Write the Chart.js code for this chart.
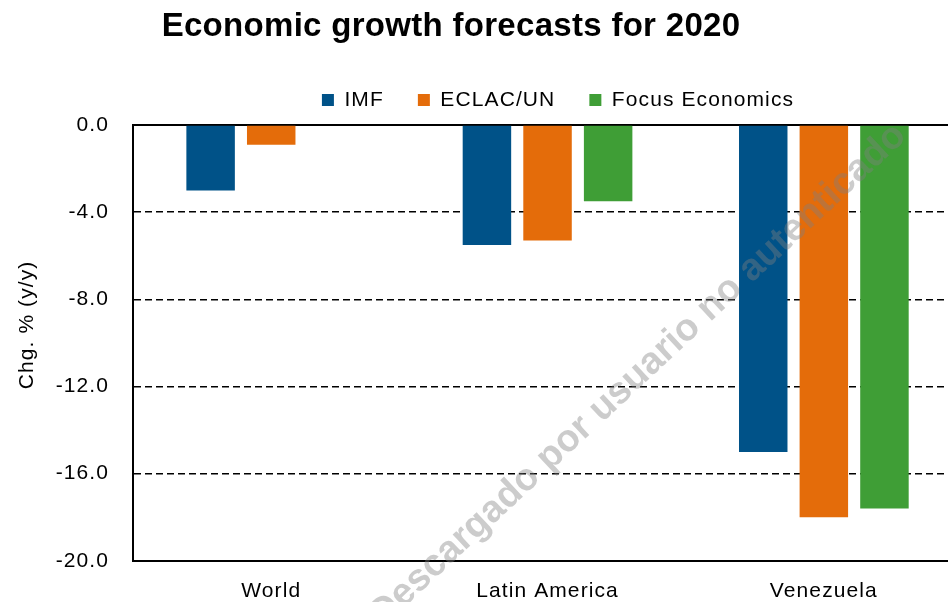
<!DOCTYPE html>
<html>
<head>
<meta charset="utf-8">
<script src="https://cdn.jsdelivr.net/npm/chart.js@4.4.1/dist/chart.umd.min.js"></script>
<style>
    html, body { margin: 0; padding: 0; background: #fff; overflow: hidden; }
    #wrap { width: 948px; height: 602px; overflow: hidden; }
</style>
</head>
<body>
<div id="wrap"><canvas id="growthChart" width="970" height="622"></canvas></div>
<script>
// values
const categories = ['World', 'Latin America', 'Venezuela'];
const imfValues = [-3.0, -5.5, -15.0];
const eclacValues = [-0.9, -5.3, -18.0];
const focusValues = [null, -3.5, -17.6];   // no Focus Economics figure for World
const yMin = -20;
const yMax = 0;
const yStep = 4;
const watermarkText = 'Descargado por usuario no autenticado';

const letterSpacing = '1.1px';
const legendShift = 77;   // legend sits right of centre in the original
const titleShift = -30;   // title sits left of centre
const yTitleShiftX = 8.5;
const yTitleShiftY = -18;

Chart.defaults.font.family = "'Liberation Sans', Arial, sans-serif";
Chart.defaults.color = '#000';

// wider letter spacing like the original rendering
const spacingPlugin = {
    id: 'spacing',
    beforeLayout(chart) { chart.ctx.letterSpacing = letterSpacing; },
    beforeDraw(chart) { chart.ctx.letterSpacing = letterSpacing; }
};

const boxesPlugin = {
    id: 'boxes',
    beforeInit(chart) {
        const fit = chart.legend.fit;
        chart.legend.fit = function () {
            fit.call(this);
            this.height += 4.5; // a bit more room under the legend
        };
        const drawTitle = chart.titleBlock.draw;
        chart.titleBlock.draw = function () {
            const ls = this.ctx.letterSpacing;
            this.ctx.letterSpacing = '0.3px';
            drawTitle.call(this);
            this.ctx.letterSpacing = ls;
        };
    },
    afterLayout(chart) {
        chart.legend.left += legendShift;
        chart.legend.right += legendShift;
        chart.titleBlock.left += titleShift;
        chart.titleBlock.right += titleShift;
        const y = chart.scales.y;
        if (!y._shifted) {
            const drawYTitle = y.drawTitle;
            y.drawTitle = function () {
                this.ctx.save();
                this.ctx.translate(yTitleShiftX, yTitleShiftY);
                drawYTitle.call(this);
                this.ctx.restore();
            };
            y._shifted = true;
        }
    }
};

const watermarkPlugin = {
    id: 'watermark',
    afterDraw(chart) {
        const ctx = chart.ctx;
        ctx.save();
        ctx.letterSpacing = '0px';
        ctx.translate(638, 375);
        ctx.rotate(-43 * Math.PI / 180);
        ctx.font = "bold 38px 'Liberation Sans', Arial, sans-serif";
        ctx.fillStyle = 'rgba(128,128,128,0.4)';
        ctx.textAlign = 'center';
        ctx.textBaseline = 'middle';
        ctx.fillText(watermarkText, 0, 0);
        ctx.restore();
    }
};

const ctx = document.getElementById('growthChart').getContext('2d');

new Chart(ctx, {
    type: 'bar',
    data: {
        labels: categories,
        datasets: [{
            label: 'IMF',
            data: imfValues,
            backgroundColor: '#005288',
            xAxisID: 'x'
        }, {
            label: 'ECLAC/UN',
            data: eclacValues,
            backgroundColor: '#E46C0A',
            xAxisID: 'x'
        }, {
            label: 'Focus Economics',
            data: focusValues,
            backgroundColor: '#3F9E36',
            xAxisID: 'x'
        }]
    },
    options: {
        responsive: false,
        animation: false,
        devicePixelRatio: 1,
        layout: {
            padding: { right: 8 }
        },
        datasets: {
            bar: {
                categoryPercentage: 0.658,
                barPercentage: 0.8,
                borderWidth: 0
            }
        },
        scales: {
            x: {
                grid: { display: false, drawTicks: false },
                border: { color: '#000', width: 2 },
                ticks: { padding: 18, color: '#000', font: { size: 21 } }
            },
            xTop: {
                type: 'category',
                labels: categories,
                position: 'top',
                grid: { display: false, drawTicks: false },
                border: { color: '#000', width: 2 },
                ticks: { display: false }
            },
            y: {
                min: yMin,
                max: yMax,
                ticks: {
                    stepSize: yStep,
                    padding: 24,
                    color: '#000',
                    font: { size: 21 },
                    callback: function (value) {
                        return value.toFixed(1);
                    }
                },
                grid: {
                    drawTicks: false,
                    lineWidth: 1.5,
                    color: function (c) {
                        // top and bottom are drawn as solid borders
                        return (c.tick && (c.tick.value === yMin || c.tick.value === yMax)) ? 'rgba(0,0,0,0)' : '#000';
                    }
                },
                border: { color: '#000', width: 2, dash: [7, 4] },
                title: {
                    display: true,
                    text: 'Chg. % (y/y)',
                    color: '#000',
                    font: { size: 21 },
                    padding: { top: 6.5, bottom: 0 }
                }
            }
        },
        plugins: {
            title: {
                display: true,
                text: 'Economic growth forecasts for 2020',
                color: '#000',
                font: { size: 33, weight: 'bold' },
                padding: { top: 7, bottom: 9 }
            },
            legend: {
                display: true,
                labels: {
                    boxWidth: 12,
                    boxHeight: 12,
                    padding: 34,
                    color: '#000',
                    font: { size: 21 }
                }
            },
            tooltip: { enabled: false }
        }
    },
    plugins: [spacingPlugin, boxesPlugin, watermarkPlugin]
});
</script>
</body>
</html>
